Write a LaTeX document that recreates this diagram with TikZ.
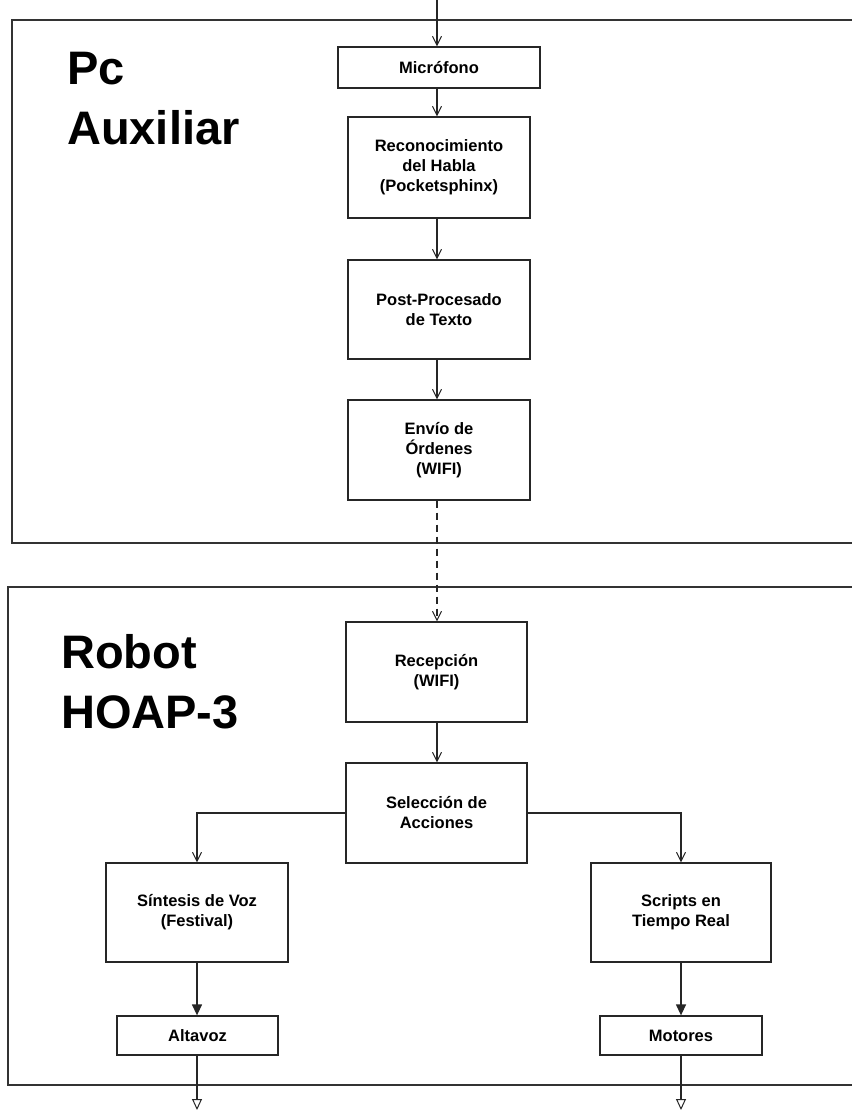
\documentclass[tikz,border=0pt]{standalone}
\usepackage{fontspec}
\setmainfont{Liberation Sans}
\usetikzlibrary{arrows.meta}
\begin{document}
\begin{tikzpicture}[x=1pt,y=-1pt,
  box/.style={draw=black!85,line width=1.3pt,align=center,font=\fontsize{16.5}{20}\selectfont\bfseries,inner sep=0pt},
  frame/.style={draw=black!80,line width=1.3pt},
  title/.style={anchor=north west,align=left,inner sep=0pt,font=\fontsize{47}{60}\selectfont\bfseries},
  conn/.style={draw=black!85,line width=1.3pt,-{Straight Barb[length=9pt,width=9pt,line width=1pt]}},
  fconn/.style={draw=black!85,line width=1.3pt,-{Triangle[length=11pt,width=10pt]}},
  oconn/.style={draw=black!85,line width=1.3pt,-{Triangle[open,length=11pt,width=10pt,line width=1pt]}}]
\useasboundingbox (0,0) rectangle (851,1110);
\fill[white] (0,0) rectangle (851,1110);
% frames
\draw[frame] (12,20) rectangle (870,543);
\draw[frame] (8,587) rectangle (870,1085);
\node[title] (t1) at (67,52) {Pc\\Auxiliar};
\node[title] (t2) at (61,634) {Robot\\HOAP-3};
% boxes
\node[box,minimum width=202pt,minimum height=41pt] (mic) at (439,67.5) {Micrófono};
\node[box,minimum width=182pt,minimum height=101pt] (rec) at (439,167.5) {Reconocimiento\\del Habla\\(Pocketsphinx)};
\node[box,minimum width=182pt,minimum height=99pt] (post) at (439,309.5) {Post-Procesado\\de Texto};
\node[box,minimum width=182pt,minimum height=100pt] (env) at (439,450) {Envío de\\Órdenes\\(WIFI)};
\node[box,minimum width=181pt,minimum height=100pt] (recp) at (436.5,672) {Recepción\\(WIFI)};
\node[box,minimum width=181pt,minimum height=100pt] (sel) at (436.5,813) {Selección de\\Acciones};
\node[box,minimum width=182pt,minimum height=99pt] (sin) at (197,912.5) {Síntesis de Voz\\(Festival)};
\node[box,minimum width=180pt,minimum height=99pt] (scr) at (681,912.5) {Scripts en\\Tiempo Real};
\node[box,minimum width=161pt,minimum height=39pt] (alt) at (197.5,1035.5) {Altavoz};
\node[box,minimum width=162pt,minimum height=39pt] (mot) at (681,1035.5) {Motores};
\coordinate (top) at (437,0);
\coordinate (bl) at (197,1110);
\coordinate (br) at (681,1110);
% connectors
\draw[conn] (top) -- (top |- mic.north);
\draw[conn] (mic.south -| top) -- (rec.north -| top);
\draw[conn] (rec.south -| top) -- (post.north -| top);
\draw[conn] (post.south -| top) -- (env.north -| top);
\draw[conn,dash pattern=on 7pt off 5pt] (env.south -| top) -- (recp.north -| top);
\draw[conn] (recp.south -| top) -- (sel.north -| top);
\draw[conn] (sel.west) -| (sin.north);
\draw[conn] (sel.east) -| (scr.north);
\draw[fconn] (sin.south) -- (alt.north -| sin.south);
\draw[fconn] (scr.south) -- (mot.north);
\draw[oconn] (alt.south -| bl) -- (bl);
\draw[oconn] (mot.south) -- (br);
\end{tikzpicture}
\end{document}
